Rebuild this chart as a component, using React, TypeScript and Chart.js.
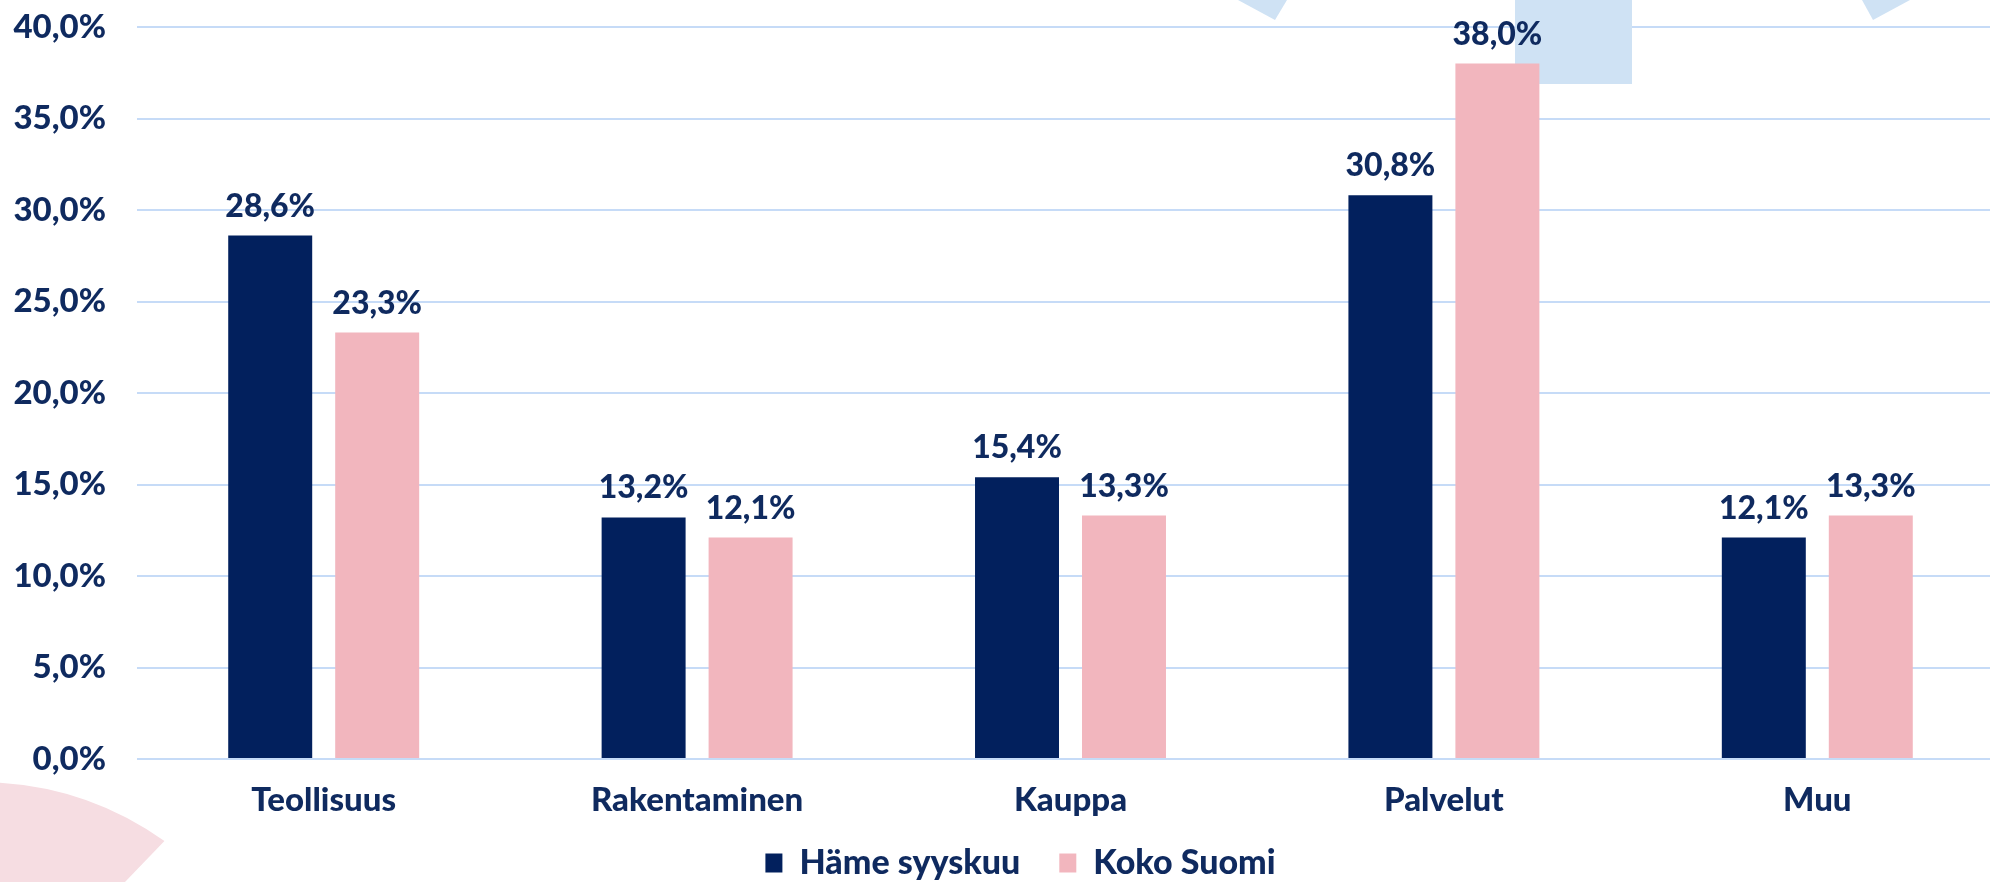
import React, { useEffect, useRef } from "react";
import { Chart, registerables } from "chart.js";

Chart.register(...registerables);

const categories = ["Teollisuus", "Rakentaminen", "Kauppa", "Palvelut", "Muu"];
const hameValues = [28.6, 13.2, 15.4, 30.8, 12.1];
const suomiValues = [23.3, 12.1, 13.3, 38.0, 13.3];
const seriesNames = ["Häme syyskuu", "Koko Suomi"];

const NAVY = "#0f2a5f";
const DARK_BAR = "#02205d";
const PINK_BAR = "#f2b6be";
const GRID = "#c6dbf7";
const FONT = "Lato, 'DejaVu Sans', sans-serif";

const fmt = (v: number) => v.toFixed(1).replace(".", ",") + "%";

const decorPlugin = {
  id: "decor",
  beforeDatasetsDraw(chart: any) {
    const ctx = chart.ctx;
    ctx.save();
    ctx.fillStyle = "#f6dde2";
    ctx.beginPath();
    const cx = -20, cy = 1100, r = 318;
    ctx.moveTo(0, 882);
    ctx.lineTo(0, 783);
    ctx.arc(cx, cy, r, Math.atan2(783 - cy, 0 - cx), Math.atan2(843 - cy, 163 - cx), false);
    ctx.lineTo(125, 882);
    ctx.closePath();
    ctx.fill();
    ctx.fillStyle = "#cfe2f4";
    ctx.fillRect(1515, 0, 117, 84);
    ctx.beginPath();
    ctx.moveTo(1238, 0);
    ctx.lineTo(1287, 0);
    ctx.lineTo(1275, 20);
    ctx.closePath();
    ctx.fill();
    ctx.beginPath();
    ctx.moveTo(1862, 0);
    ctx.lineTo(1910, 0);
    ctx.lineTo(1873, 20);
    ctx.closePath();
    ctx.fill();
    ctx.restore();
  },
};

const labelPlugin = {
  id: "valueLabels",
  afterDatasetsDraw(chart: any) {
    const ctx = chart.ctx;
    ctx.save();
    ctx.font = `900 32px ${FONT}`;
    ctx.fillStyle = NAVY;
    ctx.textAlign = "center";
    ctx.textBaseline = "alphabetic";
    chart.data.datasets.forEach((ds: any, di: number) => {
      const meta = chart.getDatasetMeta(di);
      meta.data.forEach((bar: any, i: number) => {
        ctx.fillText(fmt(ds.data[i]), bar.x, bar.y - 19);
      });
    });
    ctx.restore();
  },
};

export default function App() {
  const ref = useRef<HTMLCanvasElement | null>(null);
  useEffect(() => {
    document.body.style.margin = "0";
    document.body.style.overflow = "hidden";
    const canvas = ref.current!;
    const chart = new Chart(canvas, {
      type: "bar",
      data: {
        labels: categories,
        datasets: [
          { label: seriesNames[0], data: hameValues, backgroundColor: DARK_BAR, categoryPercentage: 0.573, barPercentage: 0.785 },
          { label: seriesNames[1], data: suomiValues, backgroundColor: PINK_BAR, categoryPercentage: 0.573, barPercentage: 0.785 },
        ],
      },
      options: {
        animation: false,
        responsive: false,
        maintainAspectRatio: false,
        layout: { padding: { top: 27, left: 37, right: 0, bottom: -8 } },
        plugins: {
          tooltip: { enabled: false },
          legend: {
            position: "bottom",
            labels: {
              font: { family: FONT, size: 34, weight: "900" },
              color: NAVY,
              boxWidth: 17,
              boxHeight: 19,
              padding: 39,
            },
          },
        },
        scales: {
          x: {
            grid: { display: false, drawTicks: false, tickLength: 0 },
            border: { display: false },
            ticks: { font: { family: FONT, size: 33, weight: "900" }, color: NAVY, padding: 22, maxRotation: 0 },
            afterFit: (scale: any) => {
              scale.height = 48;
              scale.paddingLeft = 0;
              scale.paddingRight = 0;
              scale._computeLabelArea = () => undefined;
            },
          },
          y: {
            min: 0,
            max: 40,
            grid: { color: GRID, lineWidth: 2, drawTicks: false },
            border: { display: false },
            ticks: {
              stepSize: 5,
              font: { family: FONT, size: 33, weight: "900" },
              color: NAVY,
              padding: 31,
              callback: (v: any) => fmt(Number(v)),
            },
            afterFit: (scale: any) => {
              scale.width = 100;
              scale.paddingTop = 0;
              scale.paddingBottom = 0;
              scale._computeLabelArea = () => undefined;
            },
          },
        },
      },
      plugins: [decorPlugin, labelPlugin],
    });
    return () => chart.destroy();
  }, []);
  return (
    <div style={{ width: 1990, height: 882, overflow: "hidden", position: "relative" }}>
      <canvas ref={ref} width={2004} height={882} style={{ display: "block" }} />
    </div>
  );
}
